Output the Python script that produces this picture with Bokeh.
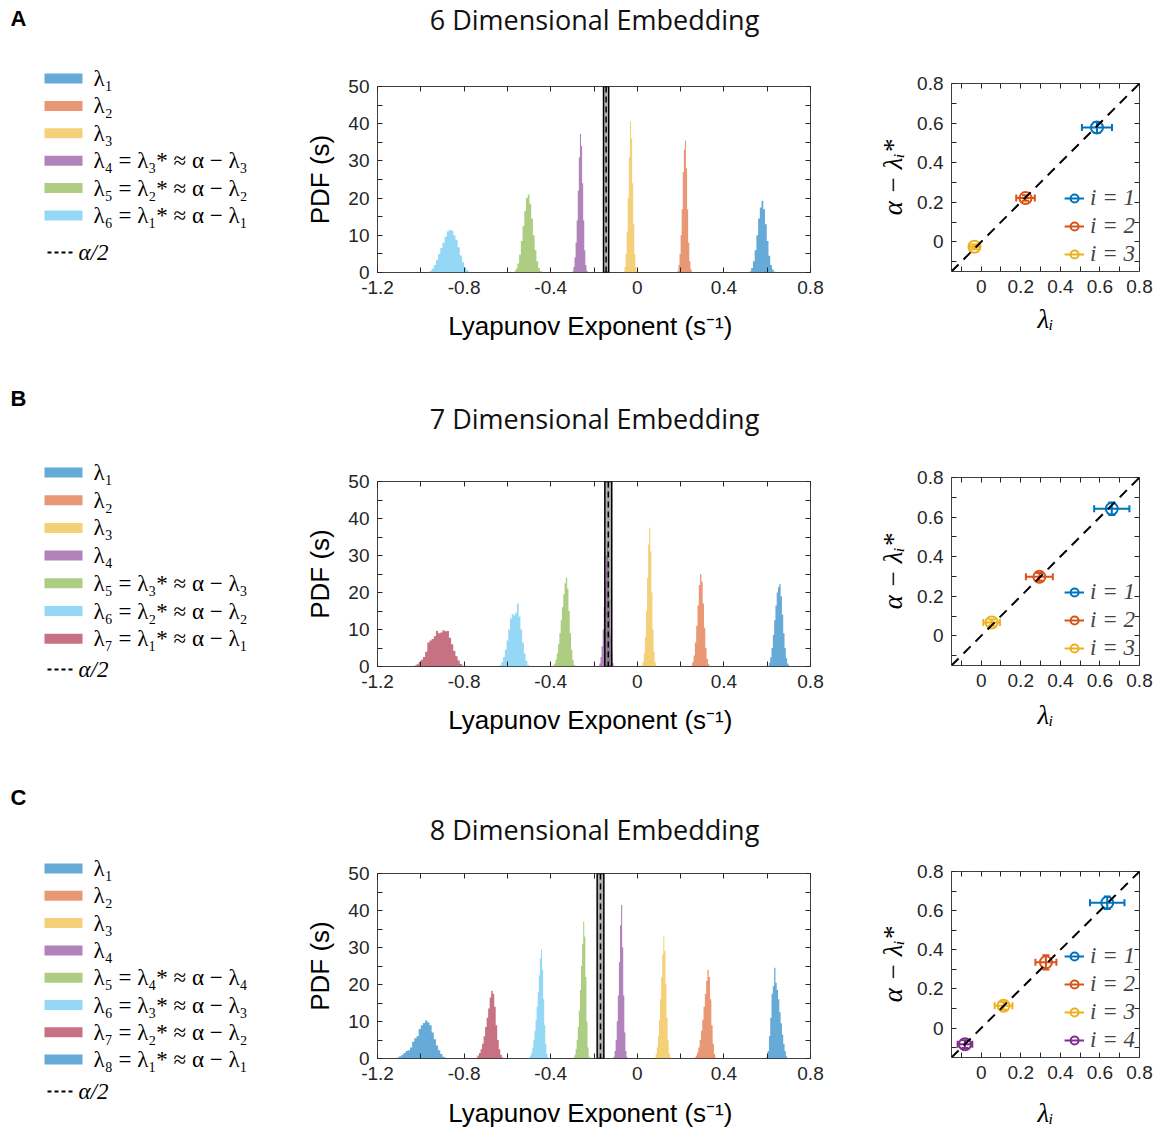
import numpy as np
from bokeh.plotting import figure
from bokeh.layouts import column, row
from bokeh.models import (Range1d, FixedTicker, LinearAxis, BoxAnnotation, Span,
                          Slope, Legend, LegendItem, ColumnDataSource)
from bokeh.core.properties import value
from bokeh.embed import file_html
from bokeh.resources import INLINE

# ---------------- data ----------------
PANELS = ["A", "B", "C"]
TITLES = ["6 Dimensional Embedding", "7 Dimensional Embedding", "8 Dimensional Embedding"]

# histogram: first bin left edge, bin width, bin heights (PDF) for lambda_1 ... lambda_n
HIST_A_START = [0.518, 0.185, -0.064, -0.300, -0.570, -0.960]
HIST_A_WIDTH = [0.008, 0.005, 0.005, 0.005, 0.008, 0.010]
HIST_A_L1 = [0.3, 1.2, 3, 6, 10, 14.5, 17.5, 19.3, 17, 13, 8.5, 4.5, 2, 0.8, 0.2]
HIST_A_L2 = [0.4, 2, 5, 10, 17, 27, 33, 35.5, 28, 17, 8, 3, 1, 0.3]
HIST_A_L3 = [0.3, 1.5, 5, 11, 20, 31, 40.5, 36, 24, 13, 5, 1.5, 0.3]
HIST_A_L4 = [0.3, 1.5, 4, 8, 14, 22, 31, 37.3, 34, 24, 14, 6, 2, 0.5]
HIST_A_L5 = [0.3, 1.0, 2.4, 4.8, 8.5, 12.5, 16.5, 20.0, 21.0, 18.5, 14.5, 10.0, 6.0, 3.0, 1.2, 0.4]
HIST_A_L6 = [0.4, 1.0, 2.0, 3.4, 5.0, 6.6, 8.0, 9.6, 11.0, 11.4, 11.2, 10.0, 8.8, 6.8, 4.6, 2.8, 1.4, 0.6, 0.2]

HIST_B_START = [0.602, 0.248, 0.020, -0.180, -0.390, -0.636, -1.030]
HIST_B_WIDTH = [0.006, 0.006, 0.005, 0.005, 0.006, 0.008, 0.010]
HIST_B_L1 = [0.3, 1, 2.5, 5, 8.5, 12.5, 16.5, 20, 21.5, 22.3, 19, 14, 9, 5, 2.2, 0.8, 0.3, 0.1]
HIST_B_L2 = [0.3, 1.2, 3, 6.5, 11, 16.5, 22, 25, 23, 17, 10.5, 5, 2, 0.6, 0.2]
HIST_B_L3 = [0.3, 1.2, 3.5, 8, 15, 24, 33, 37.5, 31, 20, 10, 4, 1.2, 0.3]
HIST_B_L4 = [0.2, 0.8, 2.5, 5.5, 10, 16, 23, 30, 33, 28, 18, 9, 3.5, 1, 0.2]
HIST_B_L5 = [0.3, 0.8, 1.8, 3.5, 6, 9, 12.5, 16, 19.5, 22.5, 24, 21, 15, 9, 4.5, 1.8, 0.5]
HIST_B_L6 = [0.4, 1.2, 2.6, 4.5, 7.0, 10.0, 13.0, 14.2, 13.8, 14.5, 17.0, 13.5, 10.0, 6.5, 3.5, 1.5, 0.4]
HIST_B_L7 = [0.3, 0.6, 1.2, 1.8, 2.6, 4.0, 6.5, 7.0, 7.4, 8.2, 9.6, 9.0, 9.2, 9.8, 9.5, 9.6, 7.8, 6.0, 4.2, 2.8, 1.6, 0.7, 0.2]

HIST_C_START = [0.596, 0.264, 0.080, -0.110, -0.295, -0.500, -0.745, -1.110]
HIST_C_WIDTH = [0.006, 0.006, 0.005, 0.005, 0.005, 0.005, 0.007, 0.010]
HIST_C_L1 = [0.4, 2.0, 6.0, 11.0, 17.5, 19.5, 24.5, 20.5, 18.5, 16.0, 12.5, 9.5, 6.5, 4.0, 2.0, 0.6]
HIST_C_L2 = [0.3, 0.8, 1.6, 3, 5, 7.5, 10.5, 14, 17.5, 21, 24, 22, 16, 9, 4, 1.2, 0.3, 0.1]
HIST_C_L3 = [0.3, 1.2, 3, 6, 10.5, 16, 22, 28, 33, 29, 20, 11, 5, 1.5, 0.4, 0.1]
HIST_C_L4 = [0.5, 2, 5, 10, 17, 26, 36, 41.5, 30, 17, 7, 2, 0.4]
HIST_C_L5 = [0.3, 1, 2.5, 5, 8.5, 13, 18.5, 25, 31, 37, 33, 22, 10, 3, 0.5]
HIST_C_L6 = [0.3, 0.8, 1.6, 3, 5, 7.5, 10.5, 14, 18, 22.5, 27, 29.5, 24, 16, 9, 4, 1.3, 0.3]
HIST_C_L7 = [0.3, 0.8, 1.5, 2.5, 4, 6, 8.5, 11, 13.5, 16.5, 18.3, 17.5, 14, 9, 5, 2.5, 1, 0.3]
HIST_C_L8 = [0.3, 0.6, 1.0, 1.5, 2.0, 2.2, 3.0, 4.5, 5.5, 6.0, 8.0, 9.0, 9.6, 10.3, 9.8, 9.0, 7.0, 5.2, 3.5, 2.2, 1.2, 0.5, 0.2]

# alpha/2 estimate and its uncertainty (grey band)
ALPHA_HALF = [-0.144, -0.134, -0.170]
ALPHA_HALF_ERR = [0.012, 0.016, 0.0155]

# right panels: lambda_i vs alpha - lambda_i^*
SC_A_X = [0.585, 0.224, -0.034]
SC_A_Y = [0.578, 0.221, -0.025]
SC_A_XERR = [0.076, 0.047, 0.025]
SC_A_YERR = [0.028, 0.014, 0.012]
SC_B_X = [0.660, 0.294, 0.053]
SC_B_Y = [0.642, 0.298, 0.067]
SC_B_XERR = [0.089, 0.068, 0.042]
SC_B_YERR = [0.032, 0.020, 0.015]
SC_C_X = [0.637, 0.327, 0.113, -0.082]
SC_C_Y = [0.640, 0.336, 0.114, -0.082]
SC_C_XERR = [0.087, 0.053, 0.045, 0.037]
SC_C_YERR = [0.032, 0.036, 0.020, 0.020]

LEG_A = ["λ₁", "λ₂", "λ₃", "λ₄ = λ₃* ≈ α − λ₃", "λ₅ = λ₂* ≈ α − λ₂", "λ₆ = λ₁* ≈ α − λ₁"]
LEG_B = ["λ₁", "λ₂", "λ₃", "λ₄", "λ₅ = λ₃* ≈ α − λ₃", "λ₆ = λ₂* ≈ α − λ₂", "λ₇ = λ₁* ≈ α − λ₁"]
LEG_C = ["λ₁", "λ₂", "λ₃", "λ₄", "λ₅ = λ₄* ≈ α − λ₄", "λ₆ = λ₃* ≈ α − λ₃",
         "λ₇ = λ₂* ≈ α − λ₂", "λ₈ = λ₁* ≈ α − λ₁"]
SC_LABELS = ["i = 1", "i = 2", "i = 3", "i = 4"]

HX_TICKS = [-1.2, -0.8, -0.4, 0, 0.4, 0.8]
HX_LABELS = ["-1.2", "-0.8", "-0.4", "0", "0.4", "0.8"]
HX_MINOR = [-1.0, -0.6, -0.2, 0.2, 0.6]
HY_TICKS = [0, 10, 20, 30, 40, 50]
HY_LABELS = ["0", "10", "20", "30", "40", "50"]
HY_MINOR = [5, 15, 25, 35, 45]
SX_TICKS = [0, 0.2, 0.4, 0.6, 0.8]
SX_LABELS = ["0", "0.2", "0.4", "0.6", "0.8"]
SX_MINOR = [-0.1, 0.1, 0.3, 0.5, 0.7]

# ---------------- style ----------------
BLUE, ORANGE, YELLOW, PURPLE = "#0072BD", "#D95319", "#EDB120", "#7E2F8E"
GREEN, CYAN, RED = "#77AC30", "#4DBEEE", "#A2142F"
HIST_COLORS = [BLUE, ORANGE, YELLOW, PURPLE, GREEN, CYAN, RED, BLUE]
SC_COLORS = [BLUE, ORANGE, YELLOW, PURPLE]
AX = "#262626"
SANS = "Liberation Sans"
SERIF = "Liberation Serif"

W = 1163
HEADER_H = [40, 60, 78]
BODY_H = [340, 335, 282]
LETTER_Y = [18, 18, 22]
TITLE_Y = [19, 38, 54]
HIST_TOP = [46, 41, 20]
HIST_FH = [186, 185, 185]
SC_TOP = [43, 37, 18]
SC_FH = [188, 188, 186]
LEG_Y0 = [38, 32, 15]
LEG_DY = [27.4, 27.7, 27.3]
LEG_ALPHA_Y = [212, 229, 238]
HIST_XLAB_STANDOFF = [14, 14, 15]
SC_XLAB_STANDOFF = [8, 10, 16]


def no_align(p):
    try:
        p.frame_align = False
    except Exception:
        pass
    return p


def style_axis(ax):
    ax.axis_line_color = None
    ax.major_tick_in = 5
    ax.major_tick_out = 0
    ax.minor_tick_in = 5
    ax.minor_tick_out = 0
    ax.major_tick_line_color = AX
    ax.minor_tick_line_color = AX
    ax.major_label_text_font = SANS
    ax.major_label_text_color = AX
    ax.major_label_text_font_size = "19px"
    ax.major_label_standoff = 8


def mirror_axis(p, side, ticks, minor):
    # box-style ticks on the opposite side, no labels (all ticks drawn as minor ticks)
    ax = LinearAxis(ticker=FixedTicker(ticks=[], minor_ticks=list(ticks) + list(minor)))
    ax.axis_line_color = None
    ax.minor_tick_in = 5
    ax.minor_tick_out = 0
    ax.minor_tick_line_color = AX
    ax.major_tick_line_color = None
    p.add_layout(ax, side)


def blank_fig(w, h):
    p = figure(width=w, height=h, x_range=Range1d(0, w), y_range=Range1d(h, 0),
               x_axis_location=None, y_axis_location=None, toolbar_location=None,
               output_backend="svg", min_border=0)
    p.grid.visible = False
    p.outline_line_color = None
    return no_align(p)


def header(r):
    p = blank_fig(W, HEADER_H[r])
    p.text(x=[18], y=[LETTER_Y[r]], text=[PANELS[r]], text_font=value(SANS),
           text_font_style="bold", text_font_size="22px", text_align="center",
           text_baseline="middle", text_color="black")
    p.text(x=[594], y=[TITLE_Y[r]], text=[TITLES[r]], text_font=value("Open Sans"),
           text_font_size="27px", text_align="center", text_baseline="middle",
           text_color="#111111")
    return p


def legend_fig(r, labels):
    p = blank_fig(300, BODY_H[r])
    n = len(labels)
    ys = [LEG_Y0[r] + k * LEG_DY[r] for k in range(n)]
    src = ColumnDataSource(dict(y=ys, t=labels, c=HIST_COLORS[:n],
                                top=[y - 5 for y in ys], bot=[y + 5 for y in ys]))
    p.quad(left=44, right=82, top="top", bottom="bot", fill_color="c", fill_alpha=0.6,
           line_color=None, source=src)
    p.text(x=93, y="y", text="t", text_font=value(SERIF), text_font_size="23px",
           text_baseline="middle", text_color="black", source=src)
    ya = LEG_ALPHA_Y[r]
    p.line(x=[47, 74], y=[ya, ya], line_color="black", line_width=2, line_dash="4 3")
    p.text(x=[78], y=[ya], text=["α/2"], text_font=value(SERIF), text_font_style="italic",
           text_font_size="23px", text_baseline="middle", text_color="black")
    return p


def hist_fig(r, starts, widths, heights):
    p = figure(frame_width=433, frame_height=HIST_FH[r], x_range=Range1d(-1.2, 0.8),
               y_range=Range1d(0, 50), min_border_left=77, min_border_right=60,
               min_border_top=HIST_TOP[r],
               min_border_bottom=BODY_H[r] - HIST_TOP[r] - HIST_FH[r],
               toolbar_location=None, output_backend="svg")
    no_align(p)
    p.grid.visible = False
    p.outline_line_color = "#404040"
    p.outline_line_width = 1
    p.xaxis.ticker = FixedTicker(ticks=HX_TICKS, minor_ticks=HX_MINOR)
    p.xaxis.major_label_overrides = dict(zip(HX_TICKS, HX_LABELS))
    p.yaxis.ticker = FixedTicker(ticks=HY_TICKS, minor_ticks=HY_MINOR)
    p.yaxis.major_label_overrides = dict(zip(HY_TICKS, HY_LABELS))
    for ax in p.xaxis + p.yaxis:
        style_axis(ax)
        ax.axis_label_text_font = SANS
        ax.axis_label_text_font_style = "normal"
        ax.axis_label_text_font_size = "26px"
        ax.axis_label_text_color = "black"
    p.xaxis.axis_label_standoff = HIST_XLAB_STANDOFF[r]
    p.yaxis.axis_label_standoff = 10
    p.xaxis.axis_label = "Lyapunov Exponent  (s⁻¹)"
    p.yaxis.axis_label = "PDF (s)"
    mirror_axis(p, "above", HX_TICKS, HX_MINOR)
    mirror_axis(p, "right", HY_TICKS, HY_MINOR)

    for k, (s, w, h) in enumerate(zip(starts, widths, heights)):
        edges = s + w * np.arange(len(h) + 1)
        tops = np.append(np.asarray(h, dtype=float), 0.0)
        p.varea_step(x=edges, y1=np.zeros(len(edges)), y2=tops, step_mode="after",
                     fill_color=HIST_COLORS[k], fill_alpha=0.6)

    a, e = ALPHA_HALF[r], ALPHA_HALF_ERR[r]
    p.add_layout(BoxAnnotation(left=a - e, right=a + e, fill_color="#7a7a7a", fill_alpha=0.6,
                               line_color="black", line_width=1.5, line_alpha=1))
    p.add_layout(Span(location=a, dimension="height", line_color="black", line_width=1.5,
                      line_dash="6 4"))
    return p


def scatter_fig(r, xs, ys, xerr, yerr):
    p = figure(frame_width=188, frame_height=SC_FH[r], x_range=Range1d(-0.15, 0.8),
               y_range=Range1d(-0.15, 0.8), min_border_left=81, min_border_right=24,
               min_border_top=SC_TOP[r], min_border_bottom=BODY_H[r] - SC_TOP[r] - SC_FH[r],
               toolbar_location=None, output_backend="svg")
    no_align(p)
    p.grid.visible = False
    p.outline_line_color = "#404040"
    p.outline_line_width = 1
    for ax in p.xaxis + p.yaxis:
        ax.ticker = FixedTicker(ticks=SX_TICKS, minor_ticks=SX_MINOR)
        ax.major_label_overrides = dict(zip(SX_TICKS, SX_LABELS))
        style_axis(ax)
        ax.axis_label_text_font = SERIF
        ax.axis_label_text_font_style = "italic"
        ax.axis_label_text_font_size = "27px"
        ax.axis_label_text_color = "black"
    p.xaxis.axis_label_standoff = SC_XLAB_STANDOFF[r]
    p.yaxis.axis_label_standoff = 6
    p.xaxis.axis_label = "λᵢ"
    p.yaxis.axis_label = "α − λᵢ*"
    mirror_axis(p, "above", SX_TICKS, SX_MINOR)
    mirror_axis(p, "right", SX_TICKS, SX_MINOR)

    p.add_layout(Slope(gradient=1, y_intercept=0, line_color="black", line_width=2,
                       line_dash="10 7"))
    items = []
    for k in range(len(xs)):
        c = SC_COLORS[k]
        src = ColumnDataSource(dict(x=[xs[k]], y=[ys[k]],
                                    x0=[xs[k] - xerr[k]], x1=[xs[k] + xerr[k]],
                                    y0=[ys[k] - yerr[k]], y1=[ys[k] + yerr[k]]))
        h = p.segment(x0="x0", y0="y", x1="x1", y1="y", line_color=c, line_width=2, source=src)
        p.segment(x0="x", y0="y0", x1="x", y1="y1", line_color=c, line_width=2, source=src)
        p.scatter(x="x0", y="y", marker="dash", angle=np.pi / 2, size=7, line_color=c,
                  line_width=2, source=src)
        p.scatter(x="x1", y="y", marker="dash", angle=np.pi / 2, size=7, line_color=c,
                  line_width=2, source=src)
        p.scatter(x="x", y="y0", marker="dash", size=7, line_color=c, line_width=2, source=src)
        p.scatter(x="x", y="y1", marker="dash", size=7, line_color=c, line_width=2, source=src)
        m = p.scatter(x="x", y="y", marker="circle", size=12, fill_color=None, line_color=c,
                      line_width=2, source=src)
        items.append(LegendItem(label=SC_LABELS[k], renderers=[h, m]))
    leg = Legend(items=items, location="bottom_right", label_text_font=SERIF,
                 label_text_font_style="italic", label_text_font_size="23px",
                 glyph_width=20, glyph_height=22, label_standoff=6, spacing=2,
                 padding=1, margin=4, background_fill_alpha=0, border_line_color=None,
                 label_height=24)
    p.add_layout(leg)
    return p


hist_sets = [
    (HIST_A_START, HIST_A_WIDTH, [HIST_A_L1, HIST_A_L2, HIST_A_L3, HIST_A_L4, HIST_A_L5, HIST_A_L6]),
    (HIST_B_START, HIST_B_WIDTH, [HIST_B_L1, HIST_B_L2, HIST_B_L3, HIST_B_L4, HIST_B_L5, HIST_B_L6,
                                  HIST_B_L7]),
    (HIST_C_START, HIST_C_WIDTH, [HIST_C_L1, HIST_C_L2, HIST_C_L3, HIST_C_L4, HIST_C_L5, HIST_C_L6,
                                  HIST_C_L7, HIST_C_L8]),
]
sc_sets = [
    (SC_A_X, SC_A_Y, SC_A_XERR, SC_A_YERR),
    (SC_B_X, SC_B_Y, SC_B_XERR, SC_B_YERR),
    (SC_C_X, SC_C_Y, SC_C_XERR, SC_C_YERR),
]
leg_sets = [LEG_A, LEG_B, LEG_C]

children = []
for r in range(3):
    children.append(header(r))
    children.append(row(legend_fig(r, leg_sets[r]),
                        hist_fig(r, *hist_sets[r]),
                        scatter_fig(r, *sc_sets[r]), spacing=0))
layout = column(children, spacing=0)

open("out.html", "w").write(file_html(layout, INLINE))
